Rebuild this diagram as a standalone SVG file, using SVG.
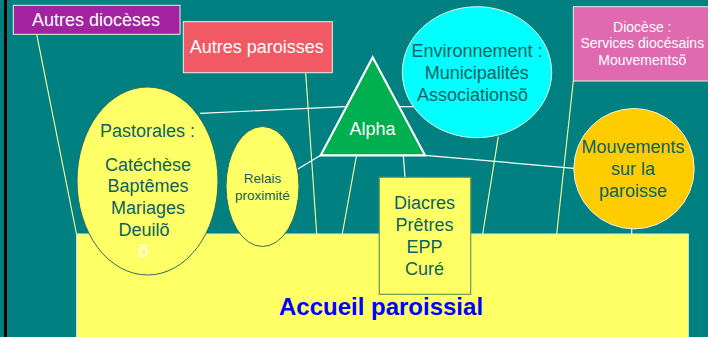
<svg xmlns="http://www.w3.org/2000/svg" width="708" height="337" viewBox="0 0 708 337">
<style>
text{font-family:"Liberation Sans",Arial,sans-serif}
.dk{fill:#0D6262;font-size:18px;text-anchor:middle}
.wt{fill:#FFFFFF;text-anchor:middle}
.ly{stroke:#FFFF99;stroke-width:1.1;fill:none}
.lw{stroke:#FFFFFF;stroke-width:1.2;fill:none}
.box{stroke:#E6F2E6;stroke-width:1}
</style>
<rect x="0" y="0" width="708" height="337" fill="#008080"/>
<rect x="4" y="0" width="3" height="337" fill="#000000"/>
<g id="connectors">
<line class="ly" x1="36.7" y1="34.3" x2="76.5" y2="234"/>
<line class="ly" x1="305.7" y1="72.7" x2="316.7" y2="234"/>
<line class="lw" x1="200" y1="113.3" x2="345" y2="106.7"/>
<line class="lw" x1="400" y1="106.7" x2="413.5" y2="106.7"/>
<line class="lw" x1="320.7" y1="155.3" x2="297" y2="169.5"/>
<line class="ly" x1="356.5" y1="155.3" x2="342.3" y2="234"/>
<line class="lw" x1="403.3" y1="155.3" x2="405" y2="177.3"/>
<line class="lw" x1="425" y1="155.3" x2="574" y2="168.3"/>
<line class="ly" x1="498.3" y1="136.7" x2="482.7" y2="234"/>
<line class="ly" x1="573.3" y1="81" x2="556.7" y2="234"/>
<line class="lw" x1="631.7" y1="229" x2="631.7" y2="234"/>
</g>
<g id="accueil">
<rect x="76.7" y="234" width="611.6" height="120" fill="#FFFF66" stroke="#E0F0E0" stroke-width="1"/>
<text x="381" y="315" style="font-size:24px;font-weight:bold;fill:#0000FF;text-anchor:middle">Accueil paroissial</text>
</g>
<g id="autres-dioceses">
<rect class="box" x="13.3" y="5.3" width="166.7" height="29" fill="#A3229F"/>
<text class="wt" x="96" y="26" style="font-size:18px">Autres diocèses</text>
</g>
<g id="autres-paroisses">
<rect class="box" x="183.3" y="21.7" width="149" height="51" fill="#F15A65"/>
<text class="wt" x="256.7" y="53.3" style="font-size:18px">Autres paroisses</text>
</g>
<g id="diocese">
<rect class="box" x="573.3" y="6.7" width="140" height="74.3" fill="#DF6AB0"/>
<text class="wt" x="642.3" y="31.7" style="font-size:14px">Diocèse :</text>
<text class="wt" x="642.3" y="48.3" style="font-size:14px">Services diocésains</text>
<text class="wt" x="642.3" y="65" style="font-size:14px">Mouvementsõ</text>
</g>
<g id="environnement">
<ellipse cx="477" cy="72.2" rx="74.7" ry="65.5" fill="#00FFFF" stroke="#E6F2E6" stroke-width="1"/>
<text class="dk" x="477" y="57">Environnement :</text>
<text class="dk" x="476.7" y="79">Municipalités</text>
<text class="dk" x="472.5" y="101">Associationsõ</text>
</g>
<g id="alpha">
<polygon points="372.7,57.3 320.7,155.3 425,155.3" fill="#00B050" stroke="#FFFFFF" stroke-width="2.2" stroke-linejoin="miter"/>
<text class="wt" x="372.5" y="135" style="font-size:18px">Alpha</text>
</g>
<g id="pastorales">
<ellipse cx="147.5" cy="181" rx="70.5" ry="94" fill="#FFFF66" stroke="#2E6B5E" stroke-width="1"/>
<text class="dk" x="147.5" y="137">Pastorales :</text>
<text class="dk" x="148" y="171">Catéchèse</text>
<text class="dk" x="148" y="192">Baptêmes</text>
<text class="dk" x="148" y="214">Mariages</text>
<text class="dk" x="144" y="236">Deuilõ</text>
<text class="wt" x="143.5" y="257" style="font-size:18px">õ</text>
</g>
<g id="relais">
<ellipse cx="262.5" cy="186.5" rx="36.5" ry="60" fill="#FFFF66" stroke="#2E6B5E" stroke-width="1"/>
<text class="dk" x="262.5" y="183" style="font-size:13.5px">Relais</text>
<text class="dk" x="262.5" y="200" style="font-size:13.5px">proximité</text>
</g>
<g id="mouvements">
<circle cx="634" cy="168.7" r="60.2" fill="#FFCC00" stroke="#F2F2E0" stroke-width="1"/>
<text class="dk" x="633" y="153">Mouvements</text>
<text class="dk" x="633" y="175">sur la</text>
<text class="dk" x="633" y="197">paroisse</text>
</g>
<g id="clerge">
<rect x="379.3" y="177.3" width="91.4" height="117" fill="#FFFF66" stroke="#6B9A5A" stroke-width="1.2"/>
<text class="dk" x="424.5" y="209">Diacres</text>
<text class="dk" x="424.5" y="231">Prêtres</text>
<text class="dk" x="424.5" y="253">EPP</text>
<text class="dk" x="424.5" y="275">Curé</text>
</g>
</svg>
